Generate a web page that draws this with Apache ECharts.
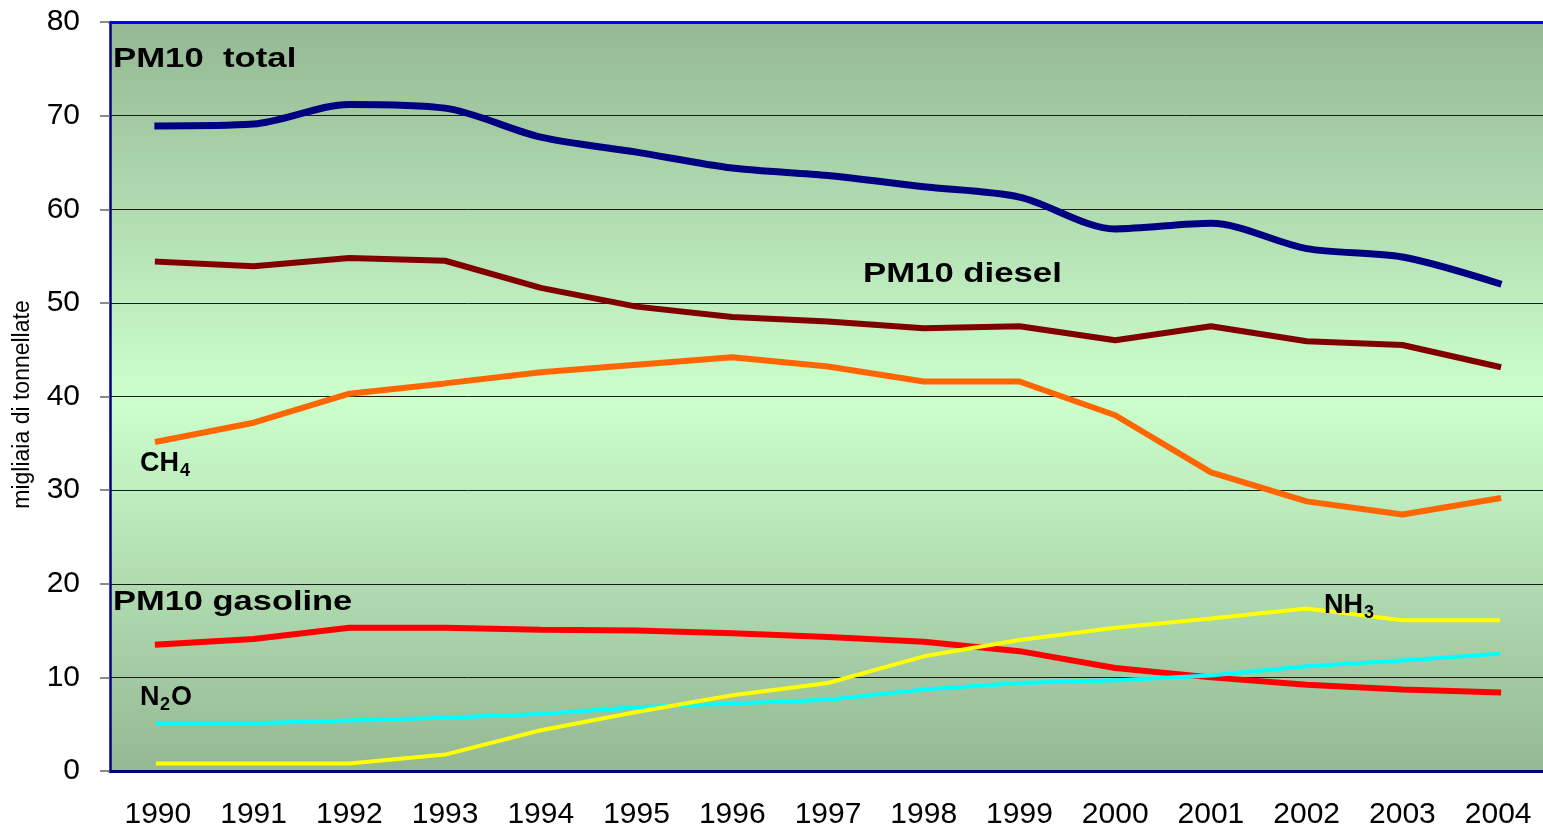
<!DOCTYPE html>
<html>
<head>
<meta charset="utf-8">
<title>PM10 emissions</title>
<script src="https://cdn.jsdelivr.net/npm/echarts@6/dist/echarts.min.js"></script>
<style>
  html, body { margin: 0; padding: 0; background: #fff; }
  #chart { width: 1543px; height: 826px; }
</style>
</head>
<body>
<div id="chart"></div>
<script>
var years = ['1990', '1991', '1992', '1993', '1994', '1995', '1996', '1997',
  '1998', '1999', '2000', '2001', '2002', '2003', '2004'];
var pm10Total = [68.9, 69.1, 71.2, 70.8, 67.7, 66.1, 64.4, 63.6, 62.4, 61.3, 57.9, 58.5, 55.8, 54.9, 52.1];
var pm10Diesel = [54.4, 53.9, 54.8, 54.5, 51.6, 49.6, 48.5, 48.0, 47.3, 47.5, 46.0, 47.5, 45.9, 45.5, 43.2];
var ch4 = [35.2, 37.2, 40.3, 41.4, 42.6, 43.4, 44.2, 43.2, 41.6, 41.6, 38.0, 31.9, 28.8, 27.4, 29.1];
var pm10Gasoline = [13.5, 14.1, 15.3, 15.3, 15.1, 15.0, 14.7, 14.3, 13.8, 12.8, 11.0, 10.0, 9.2, 8.7, 8.4];
var n2o = [5.1, 5.1, 5.4, 5.7, 6.1, 6.8, 7.2, 7.6, 8.7, 9.4, 9.7, 10.2, 11.2, 11.8, 12.5];
var nh3 = [0.8, 0.8, 0.8, 1.75, 4.35, 6.3, 8.1, 9.4, 12.25, 14.0, 15.3, 16.3, 17.35, 16.1, 16.1];

var chart = echarts.init(document.getElementById('chart'));

function line(name, data, color, width, smooth) {
  return {
    name: name,
    type: 'line',
    data: data,
    symbol: 'none',
    smooth: smooth || false,
    lineStyle: { color: color, width: width, cap: 'square' },
    z: 3
  };
}

function label(x, y, text, size, sx) {
  return {
    type: 'text',
    x: x, y: y,
    scaleX: sx || 1,
    z: 10,
    style: {
      text: text,
      fill: '#000',
      font: 'bold ' + size + 'px "Liberation Sans", Arial, sans-serif',
      textAlign: 'left',
      textVerticalAlign: 'middle'
    }
  };
}

chart.setOption({
  animation: false,
  grid: {
    left: 110, top: 22, width: 1436, height: 749,
    outerBoundsMode: 'none',
    containLabel: false,
    show: true,
    borderWidth: 0,
    backgroundColor: {
      type: 'linear', x: 0, y: 0, x2: 0, y2: 1,
      colorStops: [
        { offset: 0, color: '#94b894' },
        { offset: 0.5, color: '#ccffcc' },
        { offset: 1, color: '#94b894' }
      ]
    }
  },
  xAxis: [{
    type: 'category',
    data: years,
    boundaryGap: true,
    axisLine: { lineStyle: { color: '#000080', width: 3 } },
    axisTick: { length: 10, lineStyle: { color: '#666', width: 1.5 } },
    axisLabel: {
      color: '#000', fontSize: 30, margin: 29,
      fontFamily: '"Liberation Sans", Arial, sans-serif'
    },
    splitLine: { show: false }
  }, {
    type: 'category',
    data: years,
    position: 'top',
    axisLine: { lineStyle: { color: '#0000ff', width: 3 } },
    axisTick: { show: false },
    axisLabel: { show: false }
  }],
  yAxis: {
    type: 'value',
    min: 0, max: 80, interval: 10,
    name: 'migliaia di tonnellate',
    nameLocation: 'middle',
    nameRotate: 90,
    nameGap: 76,
    nameTextStyle: {
      color: '#000', fontSize: 23, padding: [0, 16, 0, 0],
      fontFamily: '"Liberation Sans", Arial, sans-serif'
    },
    axisLine: { show: true, lineStyle: { color: '#000080', width: 2.5 } },
    axisTick: { show: true, length: 10, lineStyle: { color: '#666', width: 1.5 } },
    axisLabel: {
      color: '#000', fontSize: 30, margin: 30,
      fontFamily: '"Liberation Sans", Arial, sans-serif'
    },
    splitLine: { lineStyle: { color: '#1a1a1a', width: 1 } }
  },
  series: [
    line('PM10 total', pm10Total, '#000080', 7, 0.3),
    line('PM10 diesel', pm10Diesel, '#800000', 6),
    line('CH4', ch4, '#ff6600', 6),
    line('PM10 gasoline', pm10Gasoline, '#ff0000', 6),
    line('N2O', n2o, '#00ffff', 4),
    line('NH3', nh3, '#ffff00', 4)
  ],
  graphic: [
    label(113, 59, 'PM10  total', 28, 1.24),
    label(863, 274, 'PM10 diesel', 28, 1.24),
    label(113, 602, 'PM10 gasoline', 28, 1.23),
    label(140, 464, 'CH', 27),
    label(180, 471, '4', 18),
    label(140, 698, 'N', 27),
    label(160, 705, '2', 18),
    label(171, 698, 'O', 27),
    label(1324, 606, 'NH', 27),
    label(1364, 613, '3', 18)
  ]
});
</script>
</body>
</html>
